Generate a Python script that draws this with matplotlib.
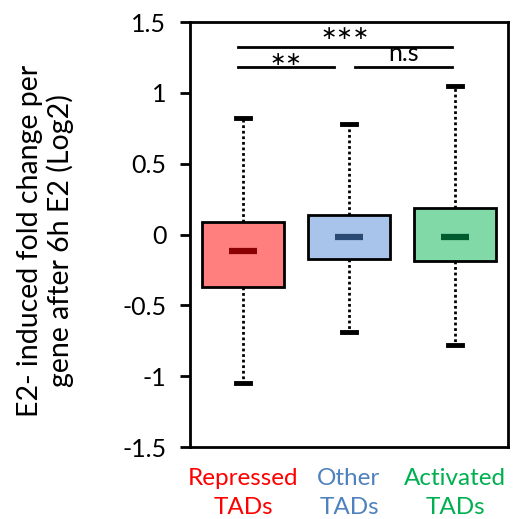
import matplotlib.pyplot as plt
import numpy as np

plt.rcParams['font.family'] = ['Lato', 'DejaVu Sans']

# box stats (log2 fold change)
groups = ['Repressed\nTADs', 'Other\nTADs', 'Activated\nTADs']
whislo = [-1.045, -0.686, -0.78]
q1 = [-0.37, -0.17, -0.19]
med = [-0.118, -0.019, -0.019]
q3 = [0.087, 0.139, 0.189]
whishi = [0.82, 0.78, 1.05]

box_colors = ['#FF7F7F', '#A9C4EB', '#80D9A6']
med_colors = ['#8B0000', '#2B4A73', '#005C2E']
label_colors = ['#FF0000', '#4F81BD', '#00B050']

# significance brackets: x start, x end, height, text
br_x1 = [0.955, 0.955, 2.06]
br_x2 = [2.97, 1.86, 2.97]
br_y = [1.325, 1.18, 1.18]
br_txt = ['\u2217\u2217\u2217', '\u2217\u2217', 'n.s']

fig = plt.figure(figsize=(5.17, 5.19), dpi=100)
ax = fig.add_axes([0.3675, 0.1387, 0.615, 0.8189])

pos = np.arange(1, len(groups) + 1)
stats = []
for i in range(len(groups)):
    stats.append({'whislo': whislo[i], 'q1': q1[i], 'med': med[i],
                  'q3': q3[i], 'whishi': whishi[i], 'fliers': []})

bp = ax.bxp(stats, positions=pos, widths=0.78, patch_artist=True,
            showfliers=False, capwidths=0.14,
            boxprops=dict(linewidth=2, edgecolor='black'),
            whiskerprops=dict(linewidth=2, linestyle=(0, (1, 1)), color='black'),
            capprops=dict(linewidth=3.5, color='black'),
            medianprops=dict(linewidth=0))
for patch, c in zip(bp['boxes'], box_colors):
    patch.set_facecolor(c)

# short median bars
ax.hlines(med, pos - 0.128, pos + 0.128, colors=med_colors, linewidth=4.5, zorder=3)

# significance brackets
for x1, x2, y, t in zip(br_x1, br_x2, br_y, br_txt):
    ax.plot([x1, x2], [y, y], color='black', linewidth=2)
    if t == 'n.s':
        ax.text((x1 + x2) / 2, y + 0.02, t, ha='center', va='bottom', fontsize=18)
    elif y < 1.3:
        ax.text((x1 + x2) / 2, y - 0.01, t, ha='center', va='bottom', fontsize=14,
                family='DejaVu Sans')
    else:
        ax.text((x1 + x2) / 2, y + 0.03, t, ha='center', va='bottom', fontsize=14,
                family='DejaVu Sans')

ax.set_xlim(0.5, 3.5)
ax.set_ylim(-1.5, 1.5)
ax.set_yticks([-1.5, -1, -0.5, 0, 0.5, 1, 1.5])
ax.set_yticklabels(['-1.5', '-1', '-0.5', '0', '0.5', '1', '1.5'], fontsize=18)
ax.set_xticks(pos)
ax.set_xticklabels(groups, fontsize=17.5, linespacing=1.5)
for lbl, c in zip(ax.get_xticklabels(), label_colors):
    lbl.set_color(c)
ax.tick_params(axis='x', length=0, pad=15)
ax.tick_params(axis='y', length=7, width=2, pad=10)
for s in ax.spines.values():
    s.set_linewidth(2)

ax.set_ylabel('E2- induced fold change per\ngene after 6h E2 (Log2)', fontsize=20.5,
              linespacing=1.12)
ax.yaxis.set_label_coords(-0.366, 0.485)

fig.savefig('out.png', dpi=100)
